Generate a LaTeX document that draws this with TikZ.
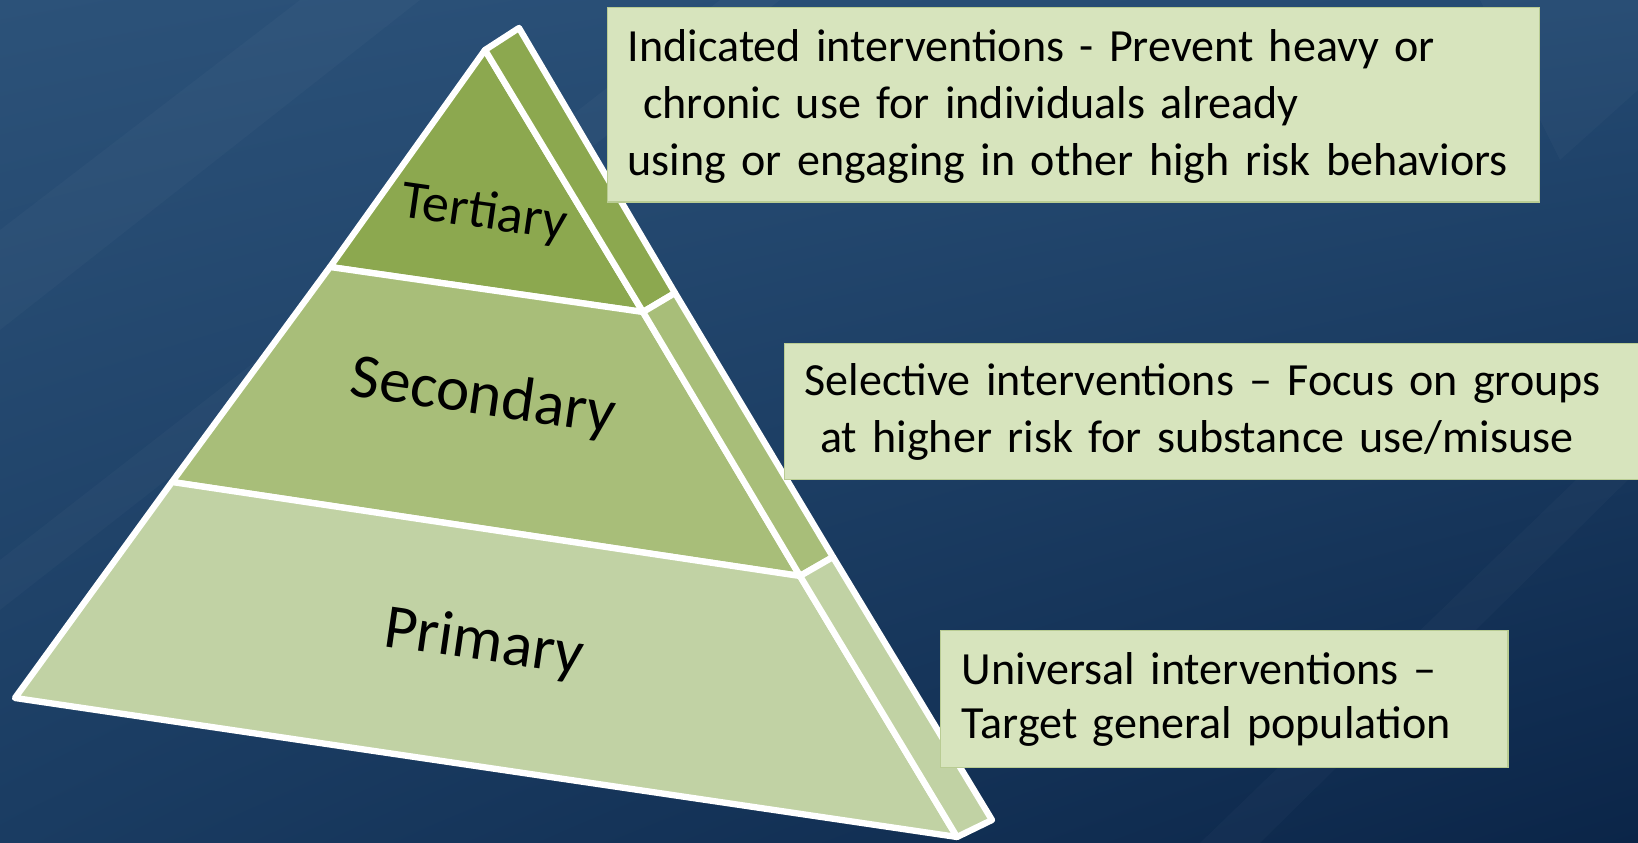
\documentclass[tikz,border=0pt]{standalone}
\usepackage{fontspec}
\setmainfont{Carlito}
\usetikzlibrary{shadings}
\definecolor{tert}{HTML}{8CA84F}
\definecolor{seco}{HTML}{A8BE79}
\definecolor{prim}{HTML}{C1D2A4}
\definecolor{boxc}{HTML}{D7E4BD}
\definecolor{boxl}{HTML}{B9CC93}
\definecolor{bgUL}{HTML}{2C5279}
\definecolor{bgUR}{HTML}{244A72}
\definecolor{bgLL}{HTML}{1A3C62}
\definecolor{bgLR}{HTML}{0B2548}
\tikzset{
  face/.style={draw=white, line width=1.8pt, line join=round},
  lab/.style={inner sep=0pt, text=black},
  ibox/.style={fill=boxc, draw=boxl, line width=0.4pt, anchor=north west, align=left,
    inner ysep=0pt, font=\fontsize{13.1}{16.2}\selectfont, text=black},
  streak/.style={fill=white, opacity=0.025}
}
\begin{document}
\begin{tikzpicture}[x=0.01cm, y=-0.01cm]
\useasboundingbox (0,0) rectangle (1638,843);
% background
\shade[upper left=bgUL, upper right=bgUR, lower left=bgLL, lower right=bgLR] (0,0) rectangle (1638,843);
\fill[streak] (0,230) -- (300,0) -- (420,0) -- (0,330) -- cycle;
\fill[streak] (0,560) -- (720,0) -- (780,0) -- (0,610) -- cycle;
\fill[streak] (1480,0) -- (1638,0) -- (1638,90) -- (1560,160) -- cycle;
\fill[streak] (1200,843) -- (1638,420) -- (1638,470) -- (1260,843) -- cycle;
% pyramid front faces
\coordinate (apx) at (485,50);
\coordinate (bk) at (519,28);
\coordinate (l1) at (330,267);
\coordinate (r1) at (643,312);
\coordinate (s1) at (675,293);
\coordinate (l2) at (172,482);
\coordinate (r2) at (800,576);
\coordinate (s2) at (833,557);
\coordinate (bl) at (15,698);
\coordinate (br) at (957,837);
\coordinate (sb) at (992,820);
\filldraw[face, fill=tert] (apx) -- (l1) -- (r1) -- cycle;
\filldraw[face, fill=seco] (l1) -- (l2) -- (r2) -- (r1) -- cycle;
\filldraw[face, fill=prim] (l2) -- (bl) -- (br) -- (r2) -- cycle;
% side faces
\filldraw[face, fill=tert] (apx) -- (bk) -- (s1) -- (r1) -- cycle;
\filldraw[face, fill=seco] (r1) -- (s1) -- (s2) -- (r2) -- cycle;
\filldraw[face, fill=prim] (r2) -- (s2) -- (sb) -- (br) -- cycle;
% labels
\node[lab, font=\fontsize{15.4}{18}\selectfont, rotate=-8.2] (tl) at (484,214) {Tertiary};
\node[lab, font=\fontsize{17.9}{21}\selectfont, rotate=-8.2] (sl) at (483,398) {Secondary};
\node[lab, font=\fontsize{17.9}{21}\selectfont, rotate=-8.2] (pl) at (484,644) {Primary};
% boxes
\node[ibox, minimum width=9.31cm, minimum height=1.94cm, text width=8.91cm, inner xsep=0.2cm] (ind) at (607,7)
  {\rule{0pt}{0.35cm}Indicated interventions - Prevent heavy or\\\ chronic use for individuals already\\using or engaging in other high risk behaviors};
\node[ibox, minimum width=8.7cm, minimum height=1.36cm, text width=8.3cm, inner xsep=0.2cm] (sel) at (784,343)
  {Selective interventions -- Focus on groups\\\ at higher risk for substance use/misuse};
\node[ibox, minimum width=5.67cm, minimum height=1.37cm, text width=5.25cm, inner xsep=0.21cm, font=\fontsize{13.1}{15.3}\selectfont] (uni) at (940,630)
  {Universal interventions --\\Target general population};
\end{tikzpicture}
\end{document}
